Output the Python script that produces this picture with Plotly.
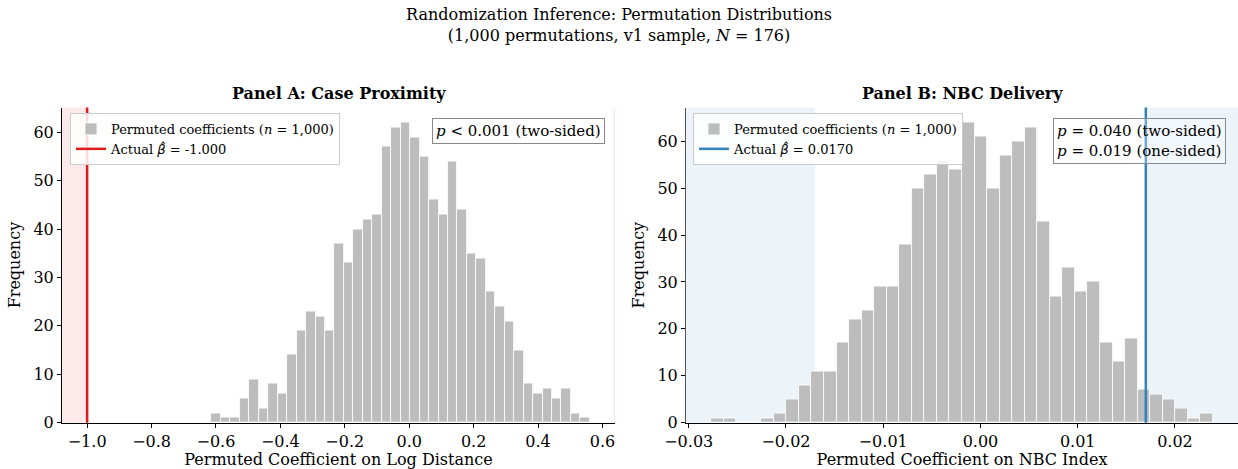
import plotly.graph_objects as go
import numpy as np

# ---------------- data ----------------
# Panel A: permuted coefficients on log distance (40 bins)
a_bin_lo, a_bin_hi = -0.614, 0.561
a_counts = [2, 1, 1, 5, 9, 3, 8, 6, 14, 19, 23, 22, 19, 37, 33, 40, 42, 43, 57, 61,
            62, 59, 55, 46, 43, 54, 44, 35, 34, 27, 24, 21, 15, 8, 6, 7, 5, 7, 2, 1]
a_actual = -1.000

# Panel B: permuted coefficients on NBC index (40 bins)
b_bin_lo, b_bin_hi = -0.02770, 0.02390
b_counts = [1, 1, 0, 0, 1, 2, 5, 8, 11, 11, 17, 22, 24, 29, 29, 38, 50, 53, 56, 54,
            64, 61, 50, 57, 60, 63, 43, 27, 33, 28, 30, 17, 13, 18, 7, 6, 5, 3, 1, 2]
b_actual = 0.0170

a_ticks = [-1.0, -0.8, -0.6, -0.4, -0.2, 0.0, 0.2, 0.4, 0.6]
b_ticks = [-0.03, -0.02, -0.01, 0.00, 0.01, 0.02]
y_ticks = [0, 10, 20, 30, 40, 50, 60]

FONT = "DejaVu Serif"
W, H = 1238, 469
GRAY = "#bdbdbd"
RED = "#e31a1c"
BLUE = "#3182bd"


def F(size):
    return dict(family=FONT, size=size, color="black")


def centers(lo, hi, n):
    edges = np.linspace(lo, hi, n + 1)
    return (edges[:-1] + edges[1:]) / 2, (hi - lo) / n


a_x, a_w = centers(a_bin_lo, a_bin_hi, len(a_counts))
b_x, b_w = centers(b_bin_lo, b_bin_hi, len(b_counts))

# axis ranges (5% margins like matplotlib)
a_lo = min(a_actual, a_bin_lo); a_hi = max(a_actual, a_bin_hi)
a_range = [a_lo - 0.05 * (a_hi - a_lo), a_hi + 0.05 * (a_hi - a_lo)]
b_lo = min(b_actual, b_bin_lo); b_hi = max(b_actual, b_bin_hi)
b_range = [b_lo - 0.05 * (b_hi - b_lo), b_hi + 0.05 * (b_hi - b_lo)]
a_yr = [0, max(a_counts) * 1.05]
b_yr = [0, max(b_counts) * 1.05]

fig = go.Figure()

fig.add_trace(go.Bar(x=a_x, y=a_counts, width=a_w, xaxis="x", yaxis="y",
                     marker=dict(color=GRAY, line=dict(color="white", width=0.8)),
                     name="Permuted coefficients (<i>n</i> = 1,000)",
                     legend="legend", legendrank=1, hoverinfo="x+y"))
fig.add_trace(go.Bar(x=b_x, y=b_counts, width=b_w, xaxis="x2", yaxis="y2",
                     marker=dict(color=GRAY, line=dict(color="white", width=0.8)),
                     name="Permuted coefficients (<i>n</i> = 1,000)",
                     legend="legend2", legendrank=1, hoverinfo="x+y"))

dom_y = [1 - 422.7 / H, 1 - 107.5 / H]
common_ax = dict(showline=True, linecolor="black", linewidth=1, ticks="outside",
                 ticklen=4, tickcolor="black", showgrid=False, zeroline=False,
                 tickfont=F(16), automargin=False)
fig.update_layout(
    width=W, height=H,
    margin=dict(l=0, r=0, t=0, b=0),
    paper_bgcolor="white", plot_bgcolor="rgba(0,0,0,0)",
    font=F(16),
    bargap=0,
    xaxis=dict(domain=[62 / W, 615 / W], range=a_range, tickvals=a_ticks,
               tickformat=".1f", **common_ax,
               title=dict(text="Permuted Coefficient on Log Distance", standoff=5,
                          font=F(16))),
    yaxis=dict(domain=dom_y, range=a_yr, tickvals=y_ticks, **common_ax,
               title=dict(text="Frequency", standoff=8, font=F(16))),
    xaxis2=dict(domain=[686 / W, 1.0], range=b_range, tickvals=b_ticks,
                tickformat=".2f", anchor="y2", **common_ax,
                title=dict(text="Permuted Coefficient on NBC Index", standoff=5,
                           font=F(16))),
    yaxis2=dict(domain=dom_y, range=b_yr, tickvals=y_ticks, anchor="x2",
                **{**common_ax, "linecolor": "#555555"},
                title=dict(text="Frequency", standoff=8, font=F(16))),
    legend=dict(x=70 / W, y=1 - 113 / H, xanchor="left", yanchor="top",
                bgcolor="rgba(255,255,255,0.85)", bordercolor="#cccccc",
                borderwidth=1, font=F(13), tracegroupgap=2),
    legend2=dict(x=693 / W, y=1 - 113 / H, xanchor="left", yanchor="top",
                 bgcolor="rgba(255,255,255,0.85)", bordercolor="#cccccc",
                 borderwidth=1, font=F(13), tracegroupgap=2),
    showlegend=True,
)

# rejection-region shading
fig.add_shape(type="rect", xref="x", yref="y domain", x0=a_range[0], x1=-abs(a_actual),
              y0=0, y1=1, fillcolor="rgba(227,26,28,0.09)", line_width=0, layer="below")
fig.add_shape(type="rect", xref="x", yref="y domain", x0=a_range[1] - 0.004, x1=a_range[1],
              y0=0, y1=1, fillcolor="rgba(227,26,28,0.09)", line_width=0, layer="below")
fig.add_shape(type="rect", xref="x2", yref="y2 domain", x0=b_range[0], x1=-abs(b_actual),
              y0=0, y1=1, fillcolor="rgba(49,130,189,0.09)", line_width=0, layer="below")
fig.add_shape(type="rect", xref="x2", yref="y2 domain", x0=abs(b_actual), x1=b_range[1],
              y0=0, y1=1, fillcolor="rgba(49,130,189,0.09)", line_width=0, layer="below")

# actual coefficient lines
beta = "<i><span style=\"font-family:'DejaVu Sans'\">\u03b2\u0302</span></i>"
fig.add_shape(type="line", xref="x", yref="y domain", x0=a_actual, x1=a_actual,
              y0=0, y1=1, line=dict(color=RED, width=2.5), layer="above",
              showlegend=True, legend="legend", legendrank=2,
              name="Actual " + beta + " = -1.000")
fig.add_shape(type="line", xref="x2", yref="y2 domain", x0=b_actual, x1=b_actual,
              y0=0, y1=1, line=dict(color=BLUE, width=2.5), layer="above",
              showlegend=True, legend="legend2", legendrank=2,
              name="Actual " + beta + " = 0.0170")

# titles
fig.add_annotation(xref="paper", yref="paper", x=0.5, y=1 - 3 / H, xanchor="center",
                   yanchor="top", showarrow=False, align="center",
                   text="Randomization Inference: Permutation Distributions<br>"
                        "(1,000 permutations, v1 sample, <i>N</i> = 176)",
                   font=F(16))
fig.add_annotation(xref="paper", yref="paper", x=(62 + 615) / 2 / W, y=1 - 94 / H,
                   xanchor="center", yanchor="middle", showarrow=False,
                   text="<b>Panel A: Case Proximity</b>", font=F(16))
fig.add_annotation(xref="paper", yref="paper", x=(686 + 1238) / 2 / W, y=1 - 94 / H,
                   xanchor="center", yanchor="middle", showarrow=False,
                   text="<b>Panel B: NBC Delivery</b>", font=F(16))

# p-value boxes
fig.add_annotation(xref="paper", yref="paper", x=605 / W, y=1 - 118 / H,
                   xanchor="right", yanchor="top", showarrow=False, align="left",
                   text="<i>p</i> &lt; 0.001 (two-sided)", font=F(15),
                   bordercolor="#888888", borderwidth=1, borderpad=3,
                   bgcolor="rgba(255,255,255,0.85)")
fig.add_annotation(xref="paper", yref="paper", x=1226 / W, y=1 - 118 / H,
                   xanchor="right", yanchor="top", showarrow=False, align="left",
                   text="<i>p</i> = 0.040 (two-sided)<br><i>p</i> = 0.019 (one-sided)",
                   font=F(15),
                   bordercolor="#888888", borderwidth=1, borderpad=3,
                   bgcolor="rgba(255,255,255,0.3)")

fig.write_html("out.html")
